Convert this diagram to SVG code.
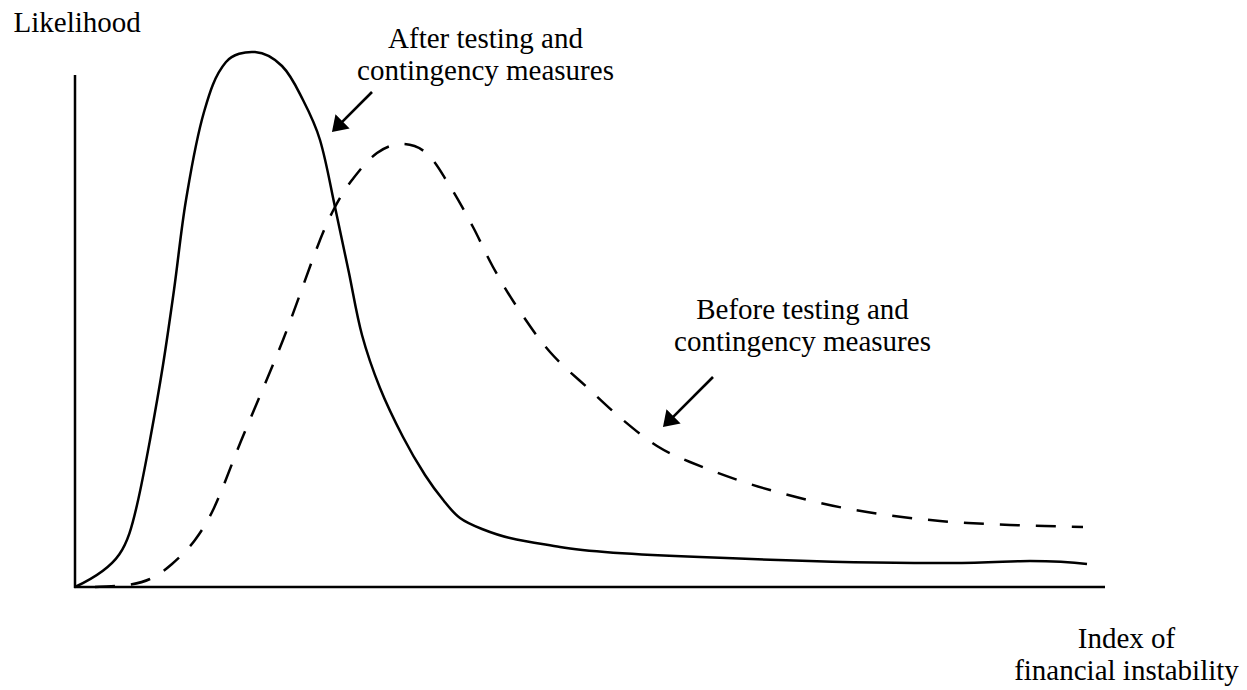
<svg xmlns="http://www.w3.org/2000/svg" width="1247" height="690" viewBox="0 0 1247 690">
  <style>
    .lbl { font-family: "Liberation Serif", "Times New Roman", serif; font-size: 29px; fill: #000; }
    .mid { text-anchor: middle; }
    .axis { stroke: #000; stroke-width: 2.5; fill: none; }
    .curve { stroke: #000; stroke-width: 2.5; fill: none; stroke-linejoin: round; }
    .dashed { stroke-dasharray: 20 16; }
    .pointer { stroke: #000; stroke-width: 2.6; fill: none; }
  </style>
  <defs>
    <marker id="head" viewBox="0 0 15 20" refX="9" refY="10" markerWidth="15" markerHeight="20" markerUnits="userSpaceOnUse" orient="auto">
      <path d="M0,0 L15,10 L0,20 Z" fill="#000"/>
    </marker>
  </defs>
  <rect width="1247" height="690" fill="#fff"/>

  <!-- axes -->
  <g id="axes">
    <path class="axis" d="M75,75 V588 M74,587 H1105"/>
  </g>

  <!-- axis titles -->
  <g id="y-label">
    <text class="lbl" x="13.5" y="32">Likelihood</text>
  </g>
  <g id="x-label">
    <text class="lbl mid" x="1126.5" y="648">Index of</text>
    <text class="lbl mid" x="1126.5" y="680">financial instability</text>
  </g>

  <!-- distribution after testing (solid) -->
  <g id="after-curve">
    <path class="curve" d="M75,587
      C120.3,565.9 126.9,548.8 137,505
      C142,483.5 146,461.7 150,440
      C154.6,415 159,390.1 163,365
      C167,340 170.5,315 174,290
      C178.2,260 181,229.9 186,200
      C191,170.5 195.7,140.7 204,112
      C209.1,94.5 214.2,75.9 226,62
      C232.6,54.2 244.8,51.3 255,52
      C265.1,52.7 274.9,58.9 282,66
      C291.4,75.4 296.9,88.2 303,100
      C309.6,112.9 315.9,126.1 320,140
      C326.5,161.9 330.1,184.6 335,207
      C339.8,229 344.4,251 349,273
      C353.3,293.7 356.5,314.6 362,335
      C366.9,353.1 373,370.6 380,388
      C386.7,404.7 394.7,421 403,437
      C409.7,450 417.1,462.7 425,475
      C430.8,484 437.2,492.7 444,501
      C448.9,507.1 453.7,513.4 460,518
      C466.6,522.9 474.4,526 482,529
      C491.1,532.6 500.4,535.8 510,538
      C526.5,541.8 543.4,544.1 560,547
      C589.6,552.1 650,555.2 700,557
      C780,560.5 870,563.5 950,563
      C990,562.8 1010,561 1030,561
      C1055,561 1075,562.5 1087,564"/>
  </g>

  <!-- distribution before testing (dashed) -->
  <g id="before-curve">
    <path class="curve dashed" d="M95,587
      C105.7,586.3 116.4,586.5 127,585
      C134.8,583.9 142.8,582.4 150,579
      C158,575.2 165.3,569.8 172,564
      C180.4,556.7 188.4,548.9 195,540
      C202.4,530.1 208.8,519.2 214,508
      C224.1,486.1 231.8,463.3 241,441
      C254.9,407.2 269.6,374 283,340
      C296,306.9 307.1,273.1 320,240
      C324.4,228.7 329.3,217.7 335,207
      C340,197.7 345.5,188.4 352,180
      C359.6,170.3 367.1,160.3 377,153
      C383.9,148 392.5,144.2 401,144
      C409.4,143.8 418.5,146.6 425,152
      C434.9,160.2 441,172.1 448,183
      C457.1,197.2 465,212.1 473,227
      C480,240.1 485.8,254 493,267
      C500.5,280.6 508.4,294.1 517,307
      C527.4,322.5 537.7,338 550,352
      C562.2,365.8 576.5,377.5 590,390
      C600.9,400.2 611.6,410.5 623,420
      C634,429.2 644.9,438.4 657,446
      C667.3,452.5 678.7,457.4 690,462
      C709.7,470.1 729.7,477.5 750,484
      C770.4,490.5 791.2,496 812,501
      C830.2,505.4 848.5,509.1 867,512
      C891.2,515.8 915.6,518.8 940,521
      C963.3,523.1 986.6,524 1010,525
      C1034.3,526 1058.7,526.3 1083,527"/>
  </g>

  <!-- callout labels -->
  <g id="after-label">
    <text class="lbl mid" x="485.5" y="48">After testing and</text>
    <text class="lbl mid" x="485.5" y="80">contingency measures</text>
  </g>
  <g id="before-label">
    <text class="lbl mid" x="802.5" y="319">Before testing and</text>
    <text class="lbl mid" x="802.5" y="351">contingency measures</text>
  </g>

  <!-- callout arrows -->
  <g id="connectors">
    <path class="pointer" d="M372,92 L336.2,127.8" marker-end="url(#head)"/>
    <path class="pointer" d="M713,377 L667.2,422.8" marker-end="url(#head)"/>
  </g>
</svg>
